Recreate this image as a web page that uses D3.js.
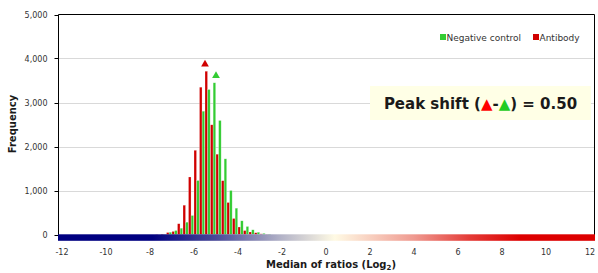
<!DOCTYPE html>
<html>
<head>
<meta charset="utf-8">
<script src="https://cdn.jsdelivr.net/npm/d3@7/dist/d3.min.js"></script>
<style>
  body { margin: 0; background: #fff; }
  text { font-family: "DejaVu Sans", Verdana, sans-serif; }
</style>
</head>
<body>
<div id="chart"></div>
<script>
// histogram bins (log2 median of ratios, bin start, width 0.25)
var binStarts = [-7.75, -7.5, -7.25, -7, -6.75, -6.5, -6.25, -6, -5.75, -5.5, -5.25,
  -5, -4.75, -4.5, -4.25, -4, -3.75, -3.5, -3.25, -3, -2.75]
var antibody = [5, 10, 45, 70, 245, 666, 1307, 1914, 3348, 3711, 2493,
  1825, 1223, 727, 364, 170, 90, 57, 40, 15, 5]
var negative = [0, 5, 52, 91, 143, 280, 432, 1227, 2802, 3295, 3448,
  2591, 1720, 1000, 598, 311, 182, 107, 52, 25, 10]

var seriesNames = ['Negative control', 'Antibody']
var peakPositions = [-5.5, -5.0]   // antibody, negative control
var peakShift = 0.50

var xTicks = [-12, -10, -8, -6, -4, -2, 0, 2, 4, 6, 8, 10, 12]
var yTicks = [0, 1000, 2000, 3000, 4000, 5000]

var width = 598
var height = 273

var svg = d3.select('#chart')
  .append('svg')
  .attr('width', width)
  .attr('height', height)

var x = d3.scaleLinear().domain([-12, 12]).range([62, 590])
var y = d3.scaleLinear().domain([0, 5000]).range([234.5, 14.5])

var left = 58.5, right = 594.5

// gridlines
svg.append('g')
  .selectAll('line')
  .data(yTicks.slice(1, -1))
  .join('line')
  .attr('x1', left).attr('x2', right)
  .attr('y1', d => Math.round(y(d)) + 0.5)
  .attr('y2', d => Math.round(y(d)) + 0.5)
  .attr('stroke', '#d9d9d9')
  .attr('stroke-width', 1)

// y axis labels + tick marks
var yAxis = svg.append('g')
yAxis.selectAll('line')
  .data(yTicks)
  .join('line')
  .attr('x1', left - 4).attr('x2', left)
  .attr('y1', d => Math.round(y(d)) + 0.5)
  .attr('y2', d => Math.round(y(d)) + 0.5)
  .attr('stroke', '#000')
yAxis.selectAll('text')
  .data(yTicks)
  .join('text')
  .attr('x', 47.5)
  .attr('y', d => y(d) + 3)
  .attr('text-anchor', 'end')
  .attr('font-size', 8)
  .attr('fill', '#333')
  .text(d => d3.format(',')(d))

// bars
var bars = svg.append('g')
binStarts.forEach(function(b, i) {
  bars.append('rect')
    .attr('x', x(b))
    .attr('width', x(b + 0.115) - x(b))
    .attr('y', y(antibody[i]))
    .attr('height', y(0) - y(antibody[i]))
    .attr('fill', '#d00000')
    .attr('stroke', 'rgba(255,255,255,0.45)')
    .attr('stroke-width', 0.5)
  bars.append('rect')
    .attr('x', x(b + 0.12))
    .attr('width', x(b + 0.235) - x(b + 0.12))
    .attr('y', y(negative[i]))
    .attr('height', y(0) - y(negative[i]))
    .attr('fill', '#33cc33')
    .attr('stroke', 'rgba(255,255,255,0.45)')
    .attr('stroke-width', 0.5)
})

// peak markers
var tri = d3.symbol(d3.symbolTriangle, 26)
var peakVals = [d3.max(antibody), d3.max(negative)]
var peakColors = ['#d00000', '#33cc33']
peakPositions.forEach(function(p, i) {
  svg.append('path')
    .attr('d', tri())
    .attr('transform', 'translate(' + x(p) + ',' + (y(peakVals[i]) - 7) + ')')
    .attr('fill', peakColors[i])
})

// plot frame (left, top, right)
svg.append('path')
  .attr('d', 'M' + left + ',235V' + 14.5 + 'H' + right + 'V235')
  .attr('fill', 'none')
  .attr('stroke', '#000')
  .attr('stroke-width', 1)

// colour band along x axis
var stops = [
  { v: -12.2, c: '#000080' },
  { v: -7.9, c: '#000080' },
  { v: -5, c: '#4a4a98' },
  { v: -2, c: '#b4b4c8' },
  { v: 0.4, c: '#fffae4' },
  { v: 2, c: '#f8d0c0' },
  { v: 4, c: '#ef9a90' },
  { v: 6.5, c: '#e43c38' },
  { v: 8.8, c: '#dd0000' },
  { v: 12.3, c: '#dd0000' }
]
var x0 = x(-12.2), x1 = x(12.3)
var grad = svg.append('defs').append('linearGradient')
  .attr('id', 'band')
  .attr('gradientUnits', 'userSpaceOnUse')
  .attr('x1', x0).attr('x2', x1)
  .attr('y1', 0).attr('y2', 0)
grad.selectAll('stop')
  .data(stops)
  .join('stop')
  .attr('offset', d => (x(d.v) - x0) / (x1 - x0))
  .attr('stop-color', d => d.c)
svg.append('rect')
  .attr('x', 58)
  .attr('y', 234.3)
  .attr('width', 595 - 58)
  .attr('height', 6.5)
  .attr('fill', 'url(#band)')

// x labels
svg.append('g')
  .selectAll('text')
  .data(xTicks)
  .join('text')
  .attr('x', d => x(d))
  .attr('y', 255)
  .attr('text-anchor', 'middle')
  .attr('font-size', 8)
  .attr('fill', '#333')
  .text(d => d)

// axis titles
var xt = svg.append('text')
  .attr('x', 331)
  .attr('y', 268)
  .attr('text-anchor', 'middle')
  .attr('font-size', 10)
  .attr('font-weight', 'bold')
  .attr('fill', '#1a1a1a')
xt.append('tspan').text('Median of ratios (Log')
xt.append('tspan').attr('font-size', 7).attr('dy', 2).text('2')
xt.append('tspan').attr('dy', -2).text(')')

svg.append('text')
  .attr('transform', 'translate(15.5,124) rotate(-90)')
  .attr('text-anchor', 'middle')
  .attr('font-size', 10)
  .attr('font-weight', 'bold')
  .attr('fill', '#1a1a1a')
  .text('Frequency')

// legend
var legend = svg.append('g')
var legendX = [440, 533]
var legendColors = ['#33cc33', '#d00000']
seriesNames.forEach(function(name, i) {
  legend.append('rect')
    .attr('x', legendX[i]).attr('y', 34)
    .attr('width', 6).attr('height', 6)
    .attr('fill', legendColors[i])
  legend.append('text')
    .attr('x', legendX[i] + 6.5)
    .attr('y', 40.5)
    .attr('font-size', 9)
    .attr('fill', '#333')
    .text(name)
})

// peak shift box
svg.append('rect')
  .attr('x', 370).attr('y', 86)
  .attr('width', 221).attr('height', 34)
  .attr('fill', '#ffffe6')
var ps = svg.append('text')
  .attr('x', 480.5)
  .attr('y', 108.5)
  .attr('text-anchor', 'middle')
  .attr('font-size', 15)
  .attr('font-weight', 'bold')
  .attr('fill', '#1a1a1a')
ps.append('tspan').text('Peak shift (')
ps.append('tspan').attr('fill', '#ff0000').text('\u25B2')
ps.append('tspan').text('-')
ps.append('tspan').attr('fill', '#22cc22').text('\u25B2')
ps.append('tspan').text(') = ' + peakShift.toFixed(2))
</script>
</body>
</html>
